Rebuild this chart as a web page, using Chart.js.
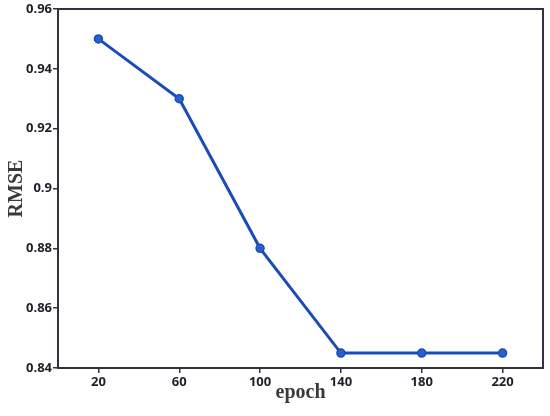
<!DOCTYPE html>
<html>
<head>
<meta charset="utf-8">
<script src="https://cdn.jsdelivr.net/npm/chart.js@4.4.0/dist/chart.umd.min.js"></script>
<style>
    html, body { margin: 0; padding: 0; background: #fff; }
    #wrap { width: 550px; height: 416px; position: relative; }
</style>
</head>
<body>
<div id="wrap"><canvas id="chart"></canvas></div>
<script>
const epochs = ['20', '60', '100', '140', '180', '220'];
const rmseValues = [0.95, 0.93, 0.88, 0.845, 0.845, 0.845];
const yTicks = [0.84, 0.86, 0.88, 0.90, 0.92, 0.94, 0.96];

const axisColor = '#2d3340';
const tickFont = { family: '"Open Sans", "Noto Sans", sans-serif', size: 13, weight: 'bold' };
const titleFont = { family: '"Liberation Serif", "Times New Roman", serif', size: 20, weight: 'bold' };

// draw the top and right edges of the box too
const frameBox = {
    id: 'frameBox',
    afterDraw(chart) {
        const { ctx, chartArea } = chart;
        ctx.save();
        ctx.strokeStyle = axisColor;
        ctx.lineWidth = 2;
        ctx.strokeRect(chartArea.left, chartArea.top, chartArea.right - chartArea.left, chartArea.bottom - chartArea.top);
        ctx.restore();
    }
};

const ctx = document.getElementById('chart').getContext('2d');
new Chart(ctx, {
    type: 'line',
    data: {
        labels: epochs,
        datasets: [{
            label: 'RMSE',
            data: rmseValues,
            borderColor: '#1a4cb8',
            backgroundColor: '#2a60cc',
            pointBorderColor: '#1a4cb8',
            borderWidth: 3,
            pointRadius: 4,
            pointBorderWidth: 1.5,
            tension: 0
        }]
    },
    options: {
        responsive: true,
        maintainAspectRatio: false,
        animation: false,
        layout: { padding: { top: 9, right: 7, left: 0, bottom: 0 } },
        plugins: {
            legend: { display: false },
            tooltip: { enabled: false }
        },
        scales: {
            x: {
                offset: true,
                grid: { display: true, drawOnChartArea: false, color: axisColor, tickLength: 5, lineWidth: 1.5 },
                border: { display: true, color: axisColor, width: 2 },
                ticks: { font: tickFont, color: '#1e1e28', padding: 1 },
                title: { display: true, text: 'epoch', font: titleFont, color: '#3a3a3a', padding: { top: 0, bottom: 11 } },
                afterFit(scale) { scale.height = 48; }
            },
            y: {
                min: 0.84,
                max: 0.96,
                afterBuildTicks(scale) { scale.ticks = yTicks.map(v => ({ value: v })); },
                grid: { display: true, drawOnChartArea: false, color: axisColor, tickLength: 5, lineWidth: 1.5 },
                border: { display: true, color: axisColor, width: 2 },
                ticks: {
                    font: tickFont,
                    color: '#1e1e28',
                    padding: 1,
                    callback: (v) => String(Number(v.toFixed(2)))
                },
                title: { display: true, text: 'RMSE', font: titleFont, color: '#3a3a3a', padding: { top: 5, bottom: 4 } },
                afterFit(scale) { scale.width = 58; }
            }
        }
    },
    plugins: [frameBox]
});
</script>
</body>
</html>
